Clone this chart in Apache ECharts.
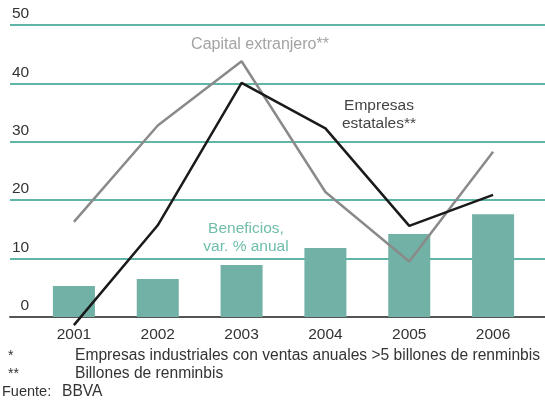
<!DOCTYPE html>
<html>
<head>
<meta charset="utf-8">
<script src="https://cdn.jsdelivr.net/npm/echarts@6/dist/echarts.min.js"></script>
<style>
  html, body { margin: 0; padding: 0; background: #fff; }
  #chart { width: 545px; height: 408px; }
</style>
</head>
<body>
<div id="chart"></div>
<script>
const years = ['2001', '2002', '2003', '2004', '2005', '2006']
const beneficios = [5.3, 6.5, 8.9, 11.8, 14.2, 17.6]
const estatales = [-1.4, 15.7, 40.1, 32.3, 15.6, 20.9]
const extranjero = [16.3, 32.8, 43.8, 21.4, 9.5, 28.3]
const yTicks = [0, 10, 20, 30, 40, 50]

const font = '"Liberation Sans", Arial, sans-serif'
const teal = '#2a9c89'

const chart = echarts.init(document.getElementById('chart'))

chart.setOption({
  animation: false,
  textStyle: { fontFamily: font },
  grid: [
    // background grid: gridlines + y labels across full width
    { left: 10, right: 0, top: 25, bottom: 91 },
    // data grid
    { left: 32, right: 10, top: 25, bottom: 91 }
  ],
  xAxis: [
    {
      gridIndex: 0, type: 'category', data: years,
      axisLine: { show: true, lineStyle: { color: '#555', width: 2 } },
      axisTick: { show: false }, axisLabel: { show: false }
    },
    {
      gridIndex: 1, type: 'category', data: years,
      axisLine: { show: false }, axisTick: { show: false },
      axisLabel: { color: '#333', fontSize: 15.5, margin: 10, fontFamily: font }
    }
  ],
  yAxis: [
    {
      gridIndex: 0, type: 'value', min: yTicks[0], max: yTicks[yTicks.length - 1], interval: 10,
      axisLine: { show: false }, axisTick: { show: false },
      axisLabel: {
        inside: true, verticalAlign: 'bottom', color: '#333', fontSize: 15.5,
        margin: 2, padding: [0, 0, 3, 0], fontFamily: font,
        formatter: (v) => v === 0 ? '  0' : String(v)
      },
      splitLine: { lineStyle: { color: teal, width: 1.5 } }
    },
    {
      gridIndex: 1, type: 'value', min: 0, max: 50,
      axisLine: { show: false }, axisTick: { show: false },
      axisLabel: { show: false }, splitLine: { show: false }
    }
  ],
  series: [
    {
      name: 'Beneficios', type: 'bar', xAxisIndex: 1, yAxisIndex: 1,
      data: beneficios, barWidth: 42,
      itemStyle: { color: '#72b1a5' }
    },
    {
      name: 'Capital extranjero', type: 'line', xAxisIndex: 1, yAxisIndex: 1,
      data: extranjero, symbol: 'none', clip: false,
      lineStyle: { color: '#8a8a8a', width: 2.5 }
    },
    {
      name: 'Empresas estatales', type: 'line', xAxisIndex: 1, yAxisIndex: 1,
      data: estatales, symbol: 'none', clip: false,
      lineStyle: { color: '#1a1a1a', width: 2.5 }
    }
  ],
  graphic: [
    {
      type: 'text', x: 260, y: 37,
      style: { text: 'Capital extranjero**', fill: '#a3a3a3', font: '16px ' + font, align: 'center' }
    },
    {
      type: 'text', x: 379, y: 97,
      style: {
        text: 'Empresas\nestatales**', fill: '#444', font: '15.5px ' + font,
        align: 'center', lineHeight: 18
      }
    },
    {
      type: 'text', x: 246, y: 220,
      style: {
        text: 'Beneficios,\nvar. % anual', fill: '#6fbdab', font: '15.5px ' + font,
        align: 'center', lineHeight: 18
      }
    },
    { type: 'text', left: 8, top: 349, style: { text: '*', fill: '#333', font: '14px ' + font } },
    {
      type: 'text', left: 75, top: 348,
      style: { text: 'Empresas industriales con ventas anuales >5 billones de renminbis', fill: '#333', font: '15.6px ' + font }
    },
    { type: 'text', left: 8, top: 367, style: { text: '**', fill: '#333', font: '14px ' + font } },
    {
      type: 'text', left: 75, top: 366,
      style: { text: 'Billones de renminbis', fill: '#333', font: '15.6px ' + font }
    },
    {
      type: 'text', left: 2, top: 384,
      style: { text: 'Fuente:', fill: '#333', font: '14.5px ' + font }
    },
    {
      type: 'text', left: 62, top: 384,
      style: { text: 'BBVA', fill: '#333', font: '15.6px ' + font }
    }
  ]
})
</script>
</body>
</html>
